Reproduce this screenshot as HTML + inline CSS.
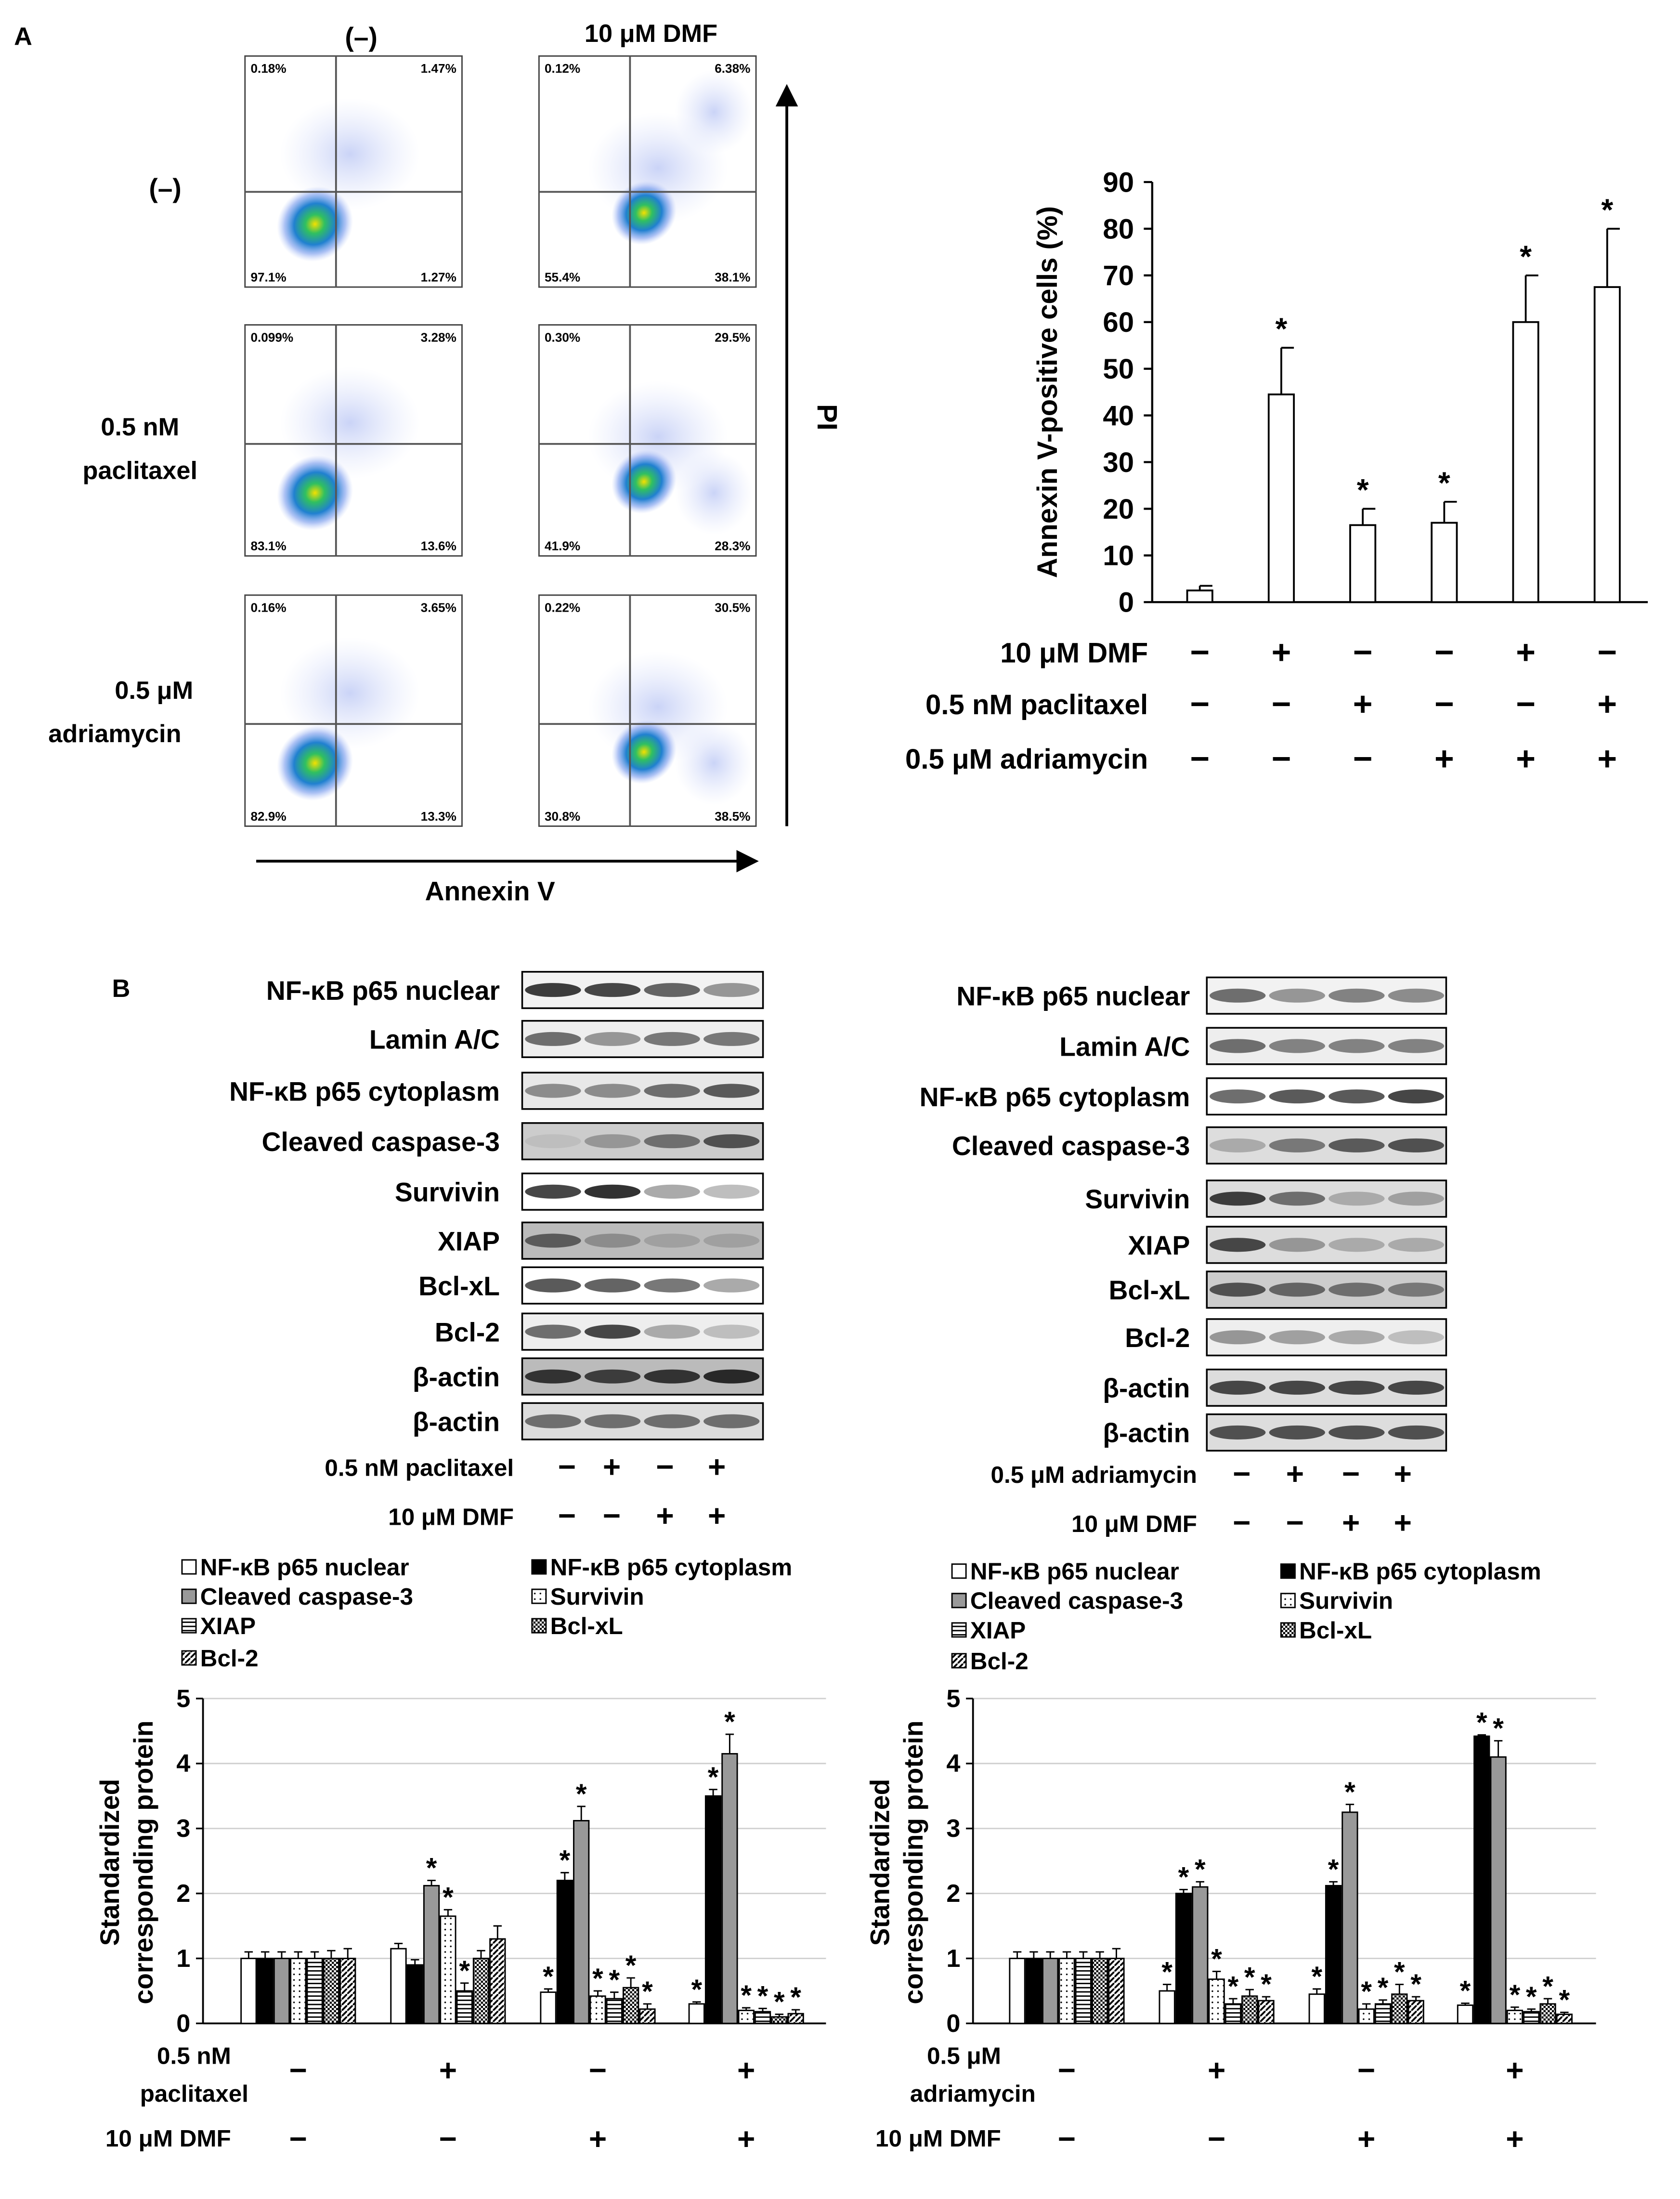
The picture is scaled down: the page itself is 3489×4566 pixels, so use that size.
<!DOCTYPE html>
<html><head><meta charset="utf-8"><style>
html,body{margin:0;padding:0;background:#fff}
svg{display:block}
text{font-family:"Liberation Sans",Arial,sans-serif;font-weight:bold;fill:#000}
</style></head><body>
<svg id="s" xmlns="http://www.w3.org/2000/svg" width="3489" height="4566" viewBox="0 0 1200 1570.4">
<defs>
<pattern id="pDot" width="4" height="4" patternUnits="userSpaceOnUse"><rect width="4" height="4" fill="#fff"/><circle cx="2" cy="2" r="0.6" fill="#000"/></pattern>
<pattern id="pH" width="4" height="3" patternUnits="userSpaceOnUse"><rect width="4" height="3" fill="#fff"/><rect y="0" width="4" height="1" fill="#000"/></pattern>
<pattern id="pC" width="3" height="3" patternUnits="userSpaceOnUse"><rect width="3" height="3" fill="#fff"/><rect width="1.5" height="1.5" fill="#000"/><rect x="1.5" y="1.5" width="1.5" height="1.5" fill="#000"/></pattern>
<pattern id="pD" width="4" height="4" patternUnits="userSpaceOnUse"><rect width="4" height="4" fill="#fff"/><path d="M-1,5 L5,-1" stroke="#000" stroke-width="1.3"/></pattern>
<radialGradient id="gFlow"><stop offset="0" stop-color="#f4e000"/><stop offset="0.25" stop-color="#30c060"/><stop offset="0.55" stop-color="#2080d0"/><stop offset="0.8" stop-color="#8aa8f0" stop-opacity="0.7"/><stop offset="1" stop-color="#b8c8f8" stop-opacity="0"/></radialGradient>
<radialGradient id="gHalo"><stop offset="0" stop-color="#9fb0f0" stop-opacity="0.55"/><stop offset="1" stop-color="#c8d2f8" stop-opacity="0"/></radialGradient>
<marker id="arr" markerWidth="8" markerHeight="8" refX="7" refY="4" orient="auto"><path d="M0,0 L8,4 L0,8 z" fill="#000"/></marker>
</defs>
<text x="10" y="32" font-size="18">A</text>
<text x="258" y="33" font-size="19" text-anchor="middle" font-weight="normal">(–)</text>
<text x="465" y="30" font-size="18" text-anchor="middle">10 μM DMF</text>
<text x="118" y="141" font-size="19" text-anchor="middle" font-weight="normal">(–)</text>
<text x="100" y="311" font-size="18" text-anchor="middle">0.5 nM</text>
<text x="100" y="342" font-size="18" text-anchor="middle">paclitaxel</text>
<text x="110" y="499" font-size="18" text-anchor="middle">0.5 μM</text>
<text x="82" y="530" font-size="18" text-anchor="middle">adriamycin</text>
<line x1="183" y1="615" x2="540" y2="615" stroke="#000" stroke-width="2" marker-end="url(#arr)"/>
<text x="350" y="643" font-size="19" text-anchor="middle">Annexin V</text>
<line x1="562" y1="590" x2="562" y2="62" stroke="#000" stroke-width="2" marker-end="url(#arr)"/>
<text x="0" y="0" font-size="20" text-anchor="middle" transform="translate(584,298) rotate(90)">PI</text>
<text x="80" y="712" font-size="18">B</text>
<g id="dyn"></g>
</svg>
<script>
const NS='http://www.w3.org/2000/svg';
const root=document.getElementById('dyn');
function mk(tag,attrs,parent,txt){const e=document.createElementNS(NS,tag);for(const k in attrs)e.setAttribute(k,attrs[k]);if(txt!==undefined)e.textContent=txt;(parent||root).appendChild(e);return e;}

/* ---------- Flow plots ---------- */
const flowQuads=[["0.18%","1.47%","97.1%","1.27%"],["0.12%","6.38%","55.4%","38.1%"],["0.099%","3.28%","83.1%","13.6%"],["0.30%","29.5%","41.9%","28.3%"],["0.16%","3.65%","82.9%","13.3%"],["0.22%","30.5%","30.8%","38.5%"]];
const flowX=[175,385], flowY=[40,232,425], fw=155, fh=165;
const hLine=[97,85,92];
flowQuads.forEach((q,i)=>{
  const c=i%2, r=Math.floor(i/2), x=flowX[c], y=flowY[r];
  const g=mk('g',{});
  
  
  mk('rect',{x:x,y:y,width:fw,height:fh,fill:'#fff',stroke:'#444','stroke-width':1},g);
  mk('ellipse',{cx:x+75+(c?10:0),cy:y+70+(c?10:0),rx:50,ry:40,fill:'url(#gHalo)'},g);
  if(c) mk('ellipse',{cx:x+125,cy:y+(r?120:40),rx:28,ry:30,fill:'url(#gHalo)'},g);
  mk('ellipse',{cx:x+50+(c?25:0),cy:y+120-(c?8:0),rx:c?24:28,ry:c?22:26,fill:'url(#gFlow)',transform:`rotate(-40 ${x+50+(c?25:0)} ${y+120-(c?8:0)})`},g);
  const vx=x+(c?65:65), hy=y+hLine[r];
  mk('line',{x1:vx,y1:y,x2:vx,y2:y+fh,stroke:'#555','stroke-width':1.3},g);
  mk('line',{x1:x,y1:hy,x2:x+fw,y2:hy,stroke:'#555','stroke-width':1.3},g);
  mk('text',{x:x+4,y:y+12,'font-size':9,'font-weight':'normal'},g,q[0]);
  mk('text',{x:x+fw-4,y:y+12,'font-size':9,'text-anchor':'end','font-weight':'normal'},g,q[1]);
  mk('text',{x:x+4,y:y+fh-4,'font-size':9,'font-weight':'normal'},g,q[2]);
  mk('text',{x:x+fw-4,y:y+fh-4,'font-size':9,'text-anchor':'end','font-weight':'normal'},g,q[3]);
});

/* ---------- Chart A ---------- */
const annexVals=[2.5,44.5,16.5,17,60,67.5];
const annexErr=[1,10,3.5,4.5,10,12.5];
const annexStar=[false,true,true,true,true,true];
const annexTicks=[0,10,20,30,40,50,60,70,80,90];
const rowDMF=['−','+','−','−','+','−'];
const rowPac=['−','−','+','−','−','+'];
const rowAdr=['−','−','−','+','+','+'];
const aY=v=>430-v*(300/90), aX=i=>857+i*58.2;
{
const g=mk('g',{});


mk('line',{x1:823,y1:130,x2:823,y2:430,stroke:'#000','stroke-width':1.5},g);
mk('line',{x1:823,y1:430,x2:1177,y2:430,stroke:'#000','stroke-width':1.5},g);
annexTicks.forEach(t=>{mk('line',{x1:817,y1:aY(t),x2:823,y2:aY(t),stroke:'#000','stroke-width':1.5},g);
 const tl=mk('text',{x:810,y:aY(t)+7,'font-size':20,'text-anchor':'end'},g,t);
 
 });
const yl=mk('text',{x:0,y:0,'font-size':20,'text-anchor':'middle',transform:'translate(755,280) rotate(-90)'},g,'Annexin V-positive cells (%)');


annexVals.forEach((v,i)=>{
  const b=mk('rect',{x:aX(i)-9,y:aY(v),width:18,height:430-aY(v),fill:'#fff',stroke:'#000','stroke-width':1.3},g);
  
  
  const te=aY(v+annexErr[i]);
  mk('line',{x1:aX(i),y1:aY(v),x2:aX(i),y2:te,stroke:'#000','stroke-width':1.3},g);
  mk('line',{x1:aX(i),y1:te,x2:aX(i)+9,y2:te,stroke:'#000','stroke-width':1.3},g);
  if(annexStar[i]) mk('text',{x:aX(i),y:te-6,'font-size':22,'text-anchor':'middle','font-weight':'normal'},g,'*');
});
[['10 μM DMF',466,rowDMF],['0.5 nM paclitaxel',503,rowPac],['0.5 μM adriamycin',542,rowAdr]].forEach(([lab,y,row])=>{
  const t=mk('text',{x:820,y:y+7,'font-size':20,'text-anchor':'end'},g,lab);
  
  
  row.forEach((s,i)=>mk('text',{x:aX(i),y:y+8,'font-size':24,'text-anchor':'middle','font-weight':'normal'},g,s));
});
}

/* ---------- Western blots ---------- */
const blotLabels=['NF-κB p65 nuclear','Lamin A/C','NF-κB p65 cytoplasm','Cleaved caspase-3','Survivin','XIAP','Bcl-xL','Bcl-2','β-actin','β-actin'];
const blotL={lx:357,bx:373,bw:172,ys:[707,742,779,815,851,886,918,951,983,1015],
 bg:['#f2f2f2','#eee','#e8e8e8','#ccc','#fff','#bbb','#fff','#eee','#bbb','#ddd'],
 band:[[.85,.8,.65,.4],[.6,.4,.55,.55],[.45,.45,.6,.7],[.2,.4,.6,.75],[.8,.9,.3,.2],[.7,.45,.35,.35],[.7,.65,.55,.3],[.6,.8,.3,.2],[.9,.85,.9,.95],[.6,.6,.6,.6]]};
const blotR={lx:850,bx:862,bw:171,ys:[711,747,783,818,856,889,921,955,991,1023],
 bg:['#f2f2f2','#eee','#fff','#ddd','#ddd','#ddd','#ccc','#eee','#ddd','#ddd'],
 band:[[.6,.4,.5,.45],[.6,.5,.5,.5],[.6,.7,.7,.8],[.3,.55,.7,.75],[.85,.6,.3,.35],[.8,.4,.3,.3],[.75,.65,.6,.55],[.4,.35,.3,.2],[.8,.8,.8,.8],[.75,.75,.75,.75]]};
[blotL,blotR].forEach((B,side)=>{
  B.ys.forEach((y,i)=>{
    const t=mk('text',{x:B.lx,y:y+7,'font-size':19,'text-anchor':'end'},root,blotLabels[i]);
    
    
    const g=mk('g',{});
    
    
    mk('rect',{x:B.bx,y:y-13,width:B.bw,height:26,fill:B.bg[i],stroke:'#000','stroke-width':1.2},g);
    B.band[i].forEach((d,k)=>{const c=Math.round(230-d*200);
      mk('ellipse',{cx:B.bx+22+k*42.5,cy:y,rx:20,ry:5,fill:`rgb(${c},${c},${c})`},g);});
  });
});
const wbRow1=['−','+','−','+'], wbRow2=['−','−','+','+'];
[[367,1048,'0.5 nM paclitaxel',[405,437,475,512]],[367,1083,'10 μM DMF',[405,437,475,512]],[855,1053,'0.5 μM adriamycin',[887,925,965,1002]],[855,1088,'10 μM DMF',[887,925,965,1002]]].forEach(([x,y,l,xs],j)=>{
  const t=mk('text',{x:x,y:y+6,'font-size':17,'text-anchor':'end'},root,l);
  
  
  (j%2?wbRow2:wbRow1).forEach((s,k)=>mk('text',{x:xs[k],y:y+7,'font-size':22,'text-anchor':'middle','font-weight':'normal'},root,s));
});

/* ---------- Legends ---------- */
const seriesNames=['NF-κB p65 nuclear','NF-κB p65 cytoplasm','Cleaved caspase-3','Survivin','XIAP','Bcl-xL','Bcl-2'];
const seriesFill=['#fff','#000','#999','url(#pDot)','url(#pH)','url(#pC)','url(#pD)'];
[[130,380,[1120,1141,1162,1185]],[680,915,[1123,1144,1165,1187]]].forEach(([x1,x2,ys])=>{
  seriesNames.forEach((n,i)=>{
    const x=i%2?x2:x1, y=ys[Math.floor(i/2)];
    const g=mk('g',{});
    
    
    mk('rect',{x:x,y:y-6,width:10,height:10,fill:seriesFill[i],stroke:'#000','stroke-width':1},g);
    mk('text',{x:x+13,y:y+5,'font-size':17},g,n);
  });
});

/* ---------- Bar charts B ---------- */
const yTicksB=[0,1,2,3,4,5];
const pacVals=[[1,1,1,1,1,1,1],[1.15,0.9,2.12,1.65,0.5,1.0,1.3],[0.48,2.2,3.12,0.42,0.38,0.55,0.22],[0.3,3.5,4.15,0.2,0.18,0.1,0.15]];
const pacErr=[[0.1,0.1,0.1,0.1,0.1,0.12,0.15],[0.08,0.08,0.08,0.1,0.12,0.12,0.2],[0.05,0.12,0.22,0.08,0.1,0.15,0.08],[0.03,0.1,0.3,0.04,0.05,0.04,0.06]];
const pacStar=[[0,0,0,0,0,0,0],[0,0,1,1,1,0,0],[1,1,1,1,1,1,1],[1,1,1,1,1,1,1]];
const adrVals=[[1,1,1,1,1,1,1],[0.5,2.0,2.1,0.68,0.3,0.42,0.35],[0.45,2.12,3.25,0.22,0.3,0.45,0.35],[0.28,4.42,4.1,0.2,0.18,0.3,0.14]];
const adrErr=[[0.1,0.1,0.1,0.1,0.1,0.1,0.15],[0.1,0.06,0.08,0.12,0.08,0.1,0.06],[0.08,0.06,0.12,0.08,0.06,0.15,0.06],[0.03,0.02,0.25,0.05,0.04,0.08,0.03]];
const adrStar=[[0,0,0,0,0,0,0],[1,1,1,1,1,1,1],[1,1,1,1,1,1,1],[1,1,1,1,1,1,1]];
const bTreat1=['−','+','−','+'], bTreat2=['−','−','+','+'];
function chartB(ax,centers,vals,errs,stars,name,lab1,lab2){
  const g=mk('g',{});
  
  
  const Y=v=>1445-v*46.4, right=ax+445, bw=11.8;
  yTicksB.forEach(t=>{
    if(t>0) mk('line',{x1:ax,y1:Y(t),x2:right,y2:Y(t),stroke:'#d0d0d0','stroke-width':1},g);
    mk('line',{x1:ax-5,y1:Y(t),x2:ax,y2:Y(t),stroke:'#000','stroke-width':1.2},g);
    mk('text',{x:ax-9,y:Y(t)+6,'font-size':18,'text-anchor':'end','font-weight':'normal'},g,t);
  });
  mk('line',{x1:ax,y1:Y(5),x2:ax,y2:Y(0),stroke:'#000','stroke-width':1.3},g);
  mk('line',{x1:ax,y1:Y(0),x2:right,y2:Y(0),stroke:'#000','stroke-width':1.3},g);
  vals.forEach((grp,gi)=>grp.forEach((v,si)=>{
    const x=centers[gi]-3.5*bw+si*bw;
    const b=mk('rect',{x:x+0.5,y:Y(v),width:bw-1,height:Y(0)-Y(v),fill:seriesFill[si],stroke:'#000','stroke-width':1},g);
    
    
    const cx=x+bw/2, te=Y(v+errs[gi][si]);
    mk('line',{x1:cx,y1:Y(v),x2:cx,y2:te,stroke:'#000','stroke-width':1},g);
    mk('line',{x1:cx-3,y1:te,x2:cx+3,y2:te,stroke:'#000','stroke-width':1},g);
    if(stars[gi][si]) mk('text',{x:cx,y:te-2,'font-size':20,'text-anchor':'middle','font-weight':'normal'},g,'*');
  }));
  const yl=ax-60;
  mk('text',{x:0,y:0,'font-size':19,'text-anchor':'middle',transform:`translate(${yl},1330) rotate(-90)`},g,'Standardized');
  mk('text',{x:0,y:0,'font-size':19,'text-anchor':'middle',transform:`translate(${yl+24},1330) rotate(-90)`},g,'corresponding protein');
  mk('text',{x:ax+20,y:1474,'font-size':17,'text-anchor':'end'},g,lab1[0]);
  mk('text',{x:ax-45,y:1501,'font-size':17},g,lab1[1]);
  mk('text',{x:ax+20,y:1533,'font-size':17,'text-anchor':'end'},g,lab2);
  centers.forEach((c,i)=>{
    mk('text',{x:c,y:1486,'font-size':22,'text-anchor':'middle','font-weight':'normal'},g,bTreat1[i]);
    mk('text',{x:c,y:1535,'font-size':22,'text-anchor':'middle','font-weight':'normal'},g,bTreat2[i]);
  });
}
chartB(145,[213,320,427,533],pacVals,pacErr,pacStar,'protein-chart-paclitaxel',['0.5 nM','paclitaxel'],'10 μM DMF');
chartB(695,[762,869,976,1082],adrVals,adrErr,adrStar,'protein-chart-adriamycin',['0.5 μM','adriamycin'],'10 μM DMF');
</script>
</body></html>
